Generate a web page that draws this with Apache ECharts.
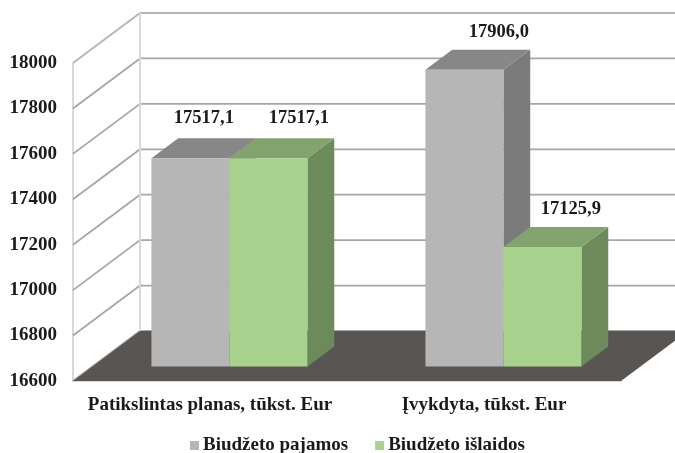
<!DOCTYPE html>
<html>
<head>
<meta charset="utf-8">
<style>
  html, body { margin: 0; padding: 0; background: #fff; }
  #chart { width: 675px; height: 453px; }
</style>
<script src="https://cdn.jsdelivr.net/npm/echarts@6/dist/echarts.min.js"></script>
</head>
<body>
<div id="chart"></div>
<script>
const categories = ['Patikslintas planas, tūkst. Eur', 'Įvykdyta, tūkst. Eur']
const seriesNames = ['Biudžeto pajamos', 'Biudžeto išlaidos']
const pajamos = [17517.1, 17906.0]
const islaidos = [17517.1, 17125.9]
const yTicks = [16600, 16800, 17000, 17200, 17400, 17600, 17800, 18000]

const FONT = '"Liberation Serif", "Times New Roman", serif'
const DEPTH_X = 67
const DEPTH_Y = 50
// bars stand inside the floor: front face and back face offsets
const BAR_FRONT = 14.5 / 50
const BAR_BACK = 34.5 / 50
const BAR_WIDTH = 78
const colors = [
  { front: '#b6b6b6', top: '#878787', side: '#7b7b7b' },
  { front: '#a9d18e', top: '#83a36e', side: '#6d8a5a' }
]
// labels were moved by hand in the original, so they do not sit centred
// order: category 1 (grey, green), category 2 (grey, green)
const labelShift = [[0, 20], [17, 20], [21, 18], [15, 18]]

const poly = (points, fill) => ({
  type: 'polygon',
  shape: { points },
  style: { fill }
})

const renderWall = (params, api) => {
  const cs = params.coordSys
  const p = api.coord([0, api.value(1)])
  const x0 = cs.x
  const style = { stroke: api.value(1) === 18000 ? '#b4b4b4' : '#a6a6a6', lineWidth: 1.8 }
  return {
    type: 'group',
    children: [
      { type: 'line', shape: { x1: x0, y1: p[1], x2: x0 + DEPTH_X, y2: p[1] - DEPTH_Y }, style },
      { type: 'line', shape: { x1: x0 + DEPTH_X, y1: p[1] - DEPTH_Y, x2: x0 + cs.width + DEPTH_X, y2: p[1] - DEPTH_Y }, style }
    ]
  }
}

const renderFloor = (params, api) => {
  const cs = params.coordSys
  const b = cs.y + cs.height
  const l = cs.x
  const r = cs.x + cs.width
  return {
    type: 'group',
    children: [
      {
        type: 'line',
        shape: { x1: l + DEPTH_X, y1: cs.y - DEPTH_Y, x2: l + DEPTH_X, y2: b - DEPTH_Y },
        style: { stroke: '#d9d9d9', lineWidth: 2 }
      },
      poly([[l, b], [l + DEPTH_X, b - DEPTH_Y], [r + DEPTH_X, b - DEPTH_Y], [r, b]], '#595553')
    ]
  }
}

const renderBar = (seriesIndex) => (params, api) => {
  const idx = api.value(0)
  const val = api.value(1)
  const c = colors[seriesIndex]
  const center = api.coord([idx, yTicks[0]])[0]
  const fx = center + DEPTH_X * BAR_FRONT + (seriesIndex === 0 ? -BAR_WIDTH : 0)
  const fy = DEPTH_Y * BAR_FRONT
  const dx = DEPTH_X * (BAR_BACK - BAR_FRONT)
  const dy = DEPTH_Y * (BAR_BACK - BAR_FRONT)
  const top = api.coord([idx, val])[1] - fy
  const bottom = api.coord([idx, yTicks[0]])[1] - fy
  const xr = fx + BAR_WIDTH
  const shift = labelShift[idx * 2 + seriesIndex]
  return {
    type: 'group',
    children: [
      poly([[xr, top], [xr + dx, top - dy], [xr + dx, bottom - dy], [xr, bottom]], c.side),
      poly([[fx, top], [fx + dx, top - dy], [xr + dx, top - dy], [xr, top]], c.top),
      poly([[fx, top], [xr, top], [xr, bottom], [fx, bottom]], c.front),
      {
        type: 'text',
        style: {
          text: val.toFixed(1).replace('.', ','),
          x: fx + BAR_WIDTH / 2 + dx / 2 + shift[0],
          y: top - dy - shift[1],
          align: 'center',
          verticalAlign: 'middle',
          fill: '#1a1a1a',
          font: 'bold 18.5px ' + FONT
        }
      }
    ]
  }
}

const chart = echarts.init(document.getElementById('chart'), null, { renderer: 'canvas' })
chart.setOption({
  animation: false,
  backgroundColor: '#fff',
  grid: { left: 73, right: 54, top: 63, bottom: 72 },
  legend: {
    data: seriesNames,
    left: 185,
    top: 431,
    icon: 'rect',
    itemWidth: 9,
    itemHeight: 9,
    itemGap: 27,
    textStyle: { fontFamily: FONT, fontWeight: 'bold', fontSize: 19, color: '#1a1a1a', padding: [0, 0, 0, -1] }
  },
  xAxis: {
    type: 'category',
    data: categories,
    axisTick: { show: false },
    axisLine: { lineStyle: { color: '#d9d9d9', width: 2 } },
    axisLabel: { interval: 0, hideOverlap: false, fontFamily: FONT, fontWeight: 'bold', fontSize: 19, color: '#1a1a1a', margin: 15 }
  },
  yAxis: {
    type: 'value',
    min: 16600,
    max: 18000,
    interval: 200,
    splitLine: { show: false },
    axisTick: { show: false },
    axisLine: { show: true, lineStyle: { color: '#d9d9d9', width: 2 } },
    axisLabel: { fontFamily: FONT, fontWeight: 'bold', fontSize: 19, color: '#1a1a1a', margin: 16, padding: [7, 0, 0, 0], formatter: (v) => String(v) }
  },
  series: [
    {
      name: 'walls',
      type: 'custom',
      renderItem: renderWall,
      clip: false,
      silent: true,
      data: yTicks.map((t) => [0, t])
    },
    {
      name: 'floor',
      type: 'custom',
      renderItem: renderFloor,
      clip: false,
      silent: true,
      data: [[0, yTicks[0]]]
    },
    {
      name: seriesNames[0],
      type: 'custom',
      renderItem: renderBar(0),
      clip: false,
      itemStyle: { color: colors[0].front },
      data: pajamos.map((v, i) => [i, v])
    },
    {
      name: seriesNames[1],
      type: 'custom',
      renderItem: renderBar(1),
      clip: false,
      itemStyle: { color: colors[1].front },
      data: islaidos.map((v, i) => [i, v])
    }
  ]
})
</script>
</body>
</html>
